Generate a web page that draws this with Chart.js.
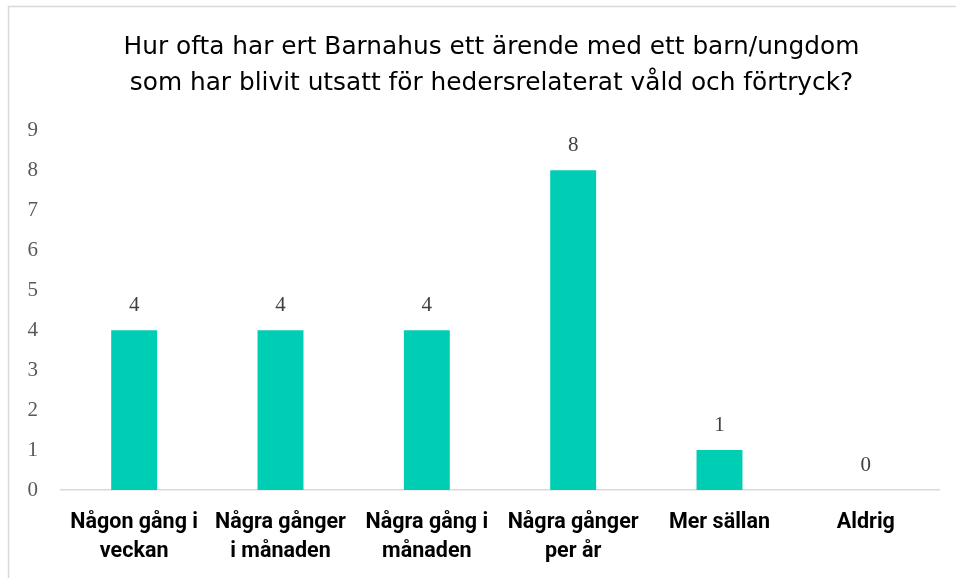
<!DOCTYPE html>
<html>
<head>
<meta charset="utf-8">
<script src="https://cdn.jsdelivr.net/npm/chart.js@4.4.1/dist/chart.umd.min.js"></script>
<style>
  html, body { margin: 0; padding: 0; background: #fff; }
  #wrap { position: absolute; left: 0; top: 0; width: 956px; height: 578px; }
</style>
</head>
<body>
<div id="wrap"><canvas id="c" width="956" height="578"></canvas></div>
<script>
const titleLines = [
  "Hur ofta har ert Barnahus ett ärende med ett barn/ungdom",
  "som har blivit utsatt för hedersrelaterat våld och förtryck?"
];
const categories = [
  ["Någon gång i", "veckan"],
  ["Några gånger", "i månaden"],
  ["Några gång i", "månaden"],
  ["Några gånger", "per år"],
  ["Mer sällan"],
  ["Aldrig"]
];
const values = [4, 4, 4, 8, 1, 0];
const yTicks = [0, 1, 2, 3, 4, 5, 6, 7, 8, 9];

const frame = {
  id: 'frame',
  afterLayout(chart) {
    const t = chart.titleBlock;
    if (t) { t.left = 44; t.right = 939; }
  },
  beforeDraw(chart) {
    const ctx = chart.ctx;
    ctx.save();
    ctx.fillStyle = '#ffffff';
    ctx.fillRect(0, 0, chart.width, chart.height);
    ctx.strokeStyle = '#d9d9d9';
    ctx.lineWidth = 1.5;
    ctx.beginPath();
    ctx.moveTo(8.5, chart.height + 2);
    ctx.lineTo(8.5, 6.5);
    ctx.lineTo(chart.width + 2, 6.5);
    ctx.stroke();
    ctx.restore();
  }
};

const dataLabels = {
  id: 'dataLabels',
  afterDatasetsDraw(chart) {
    const ctx = chart.ctx;
    const meta = chart.getDatasetMeta(0);
    ctx.save();
    ctx.font = '21px "Liberation Serif", serif';
    ctx.fillStyle = '#404040';
    ctx.textAlign = 'center';
    ctx.textBaseline = 'middle';
    meta.data.forEach((bar, i) => {
      ctx.fillText(String(values[i]), bar.x, bar.y - 25);
    });
    ctx.restore();
  }
};

new Chart(document.getElementById('c'), {
  type: 'bar',
  data: {
    labels: categories,
    datasets: [{
      data: values,
      backgroundColor: '#00CEB4',
      borderWidth: 0,
      barPercentage: 0.314,
      categoryPercentage: 1
    }]
  },
  options: {
    responsive: false,
    animation: false,
    layout: { padding: { left: 0, right: 17, top: 0, bottom: 14 } },
    plugins: {
      legend: { display: false },
      tooltip: { enabled: false },
      title: {
        display: true,
        text: titleLines,
        color: '#000000',
        font: { family: '"DejaVu Sans"', size: 24.8, weight: 'normal', lineHeight: 1.46 },
        padding: { top: 29, bottom: 29 }
      }
    },
    scales: {
      x: {
        afterFit(scale) { scale.height = 74; },
        grid: { display: false, drawTicks: false },
        border: { display: true, color: '#d9d9d9', width: 1.5 },
        ticks: {
          color: '#000000',
          padding: 18,
          maxRotation: 0,
          autoSkip: false,
          font: { family: 'Roboto', size: 21.5, weight: 'bold', lineHeight: 1.35 }
        }
      },
      y: {
        min: 0,
        max: 9,
        afterBuildTicks(scale) { scale.ticks = yTicks.map(v => ({ value: v })); },
        afterFit(scale) { scale.width = 61; },
        grid: { display: false, drawTicks: false },
        border: { display: false },
        ticks: {
          color: '#595959',
          padding: 23,
          font: { family: '"Liberation Serif"', size: 21 }
        }
      }
    }
  },
  plugins: [frame, dataLabels]
});
</script>
</body>
</html>
